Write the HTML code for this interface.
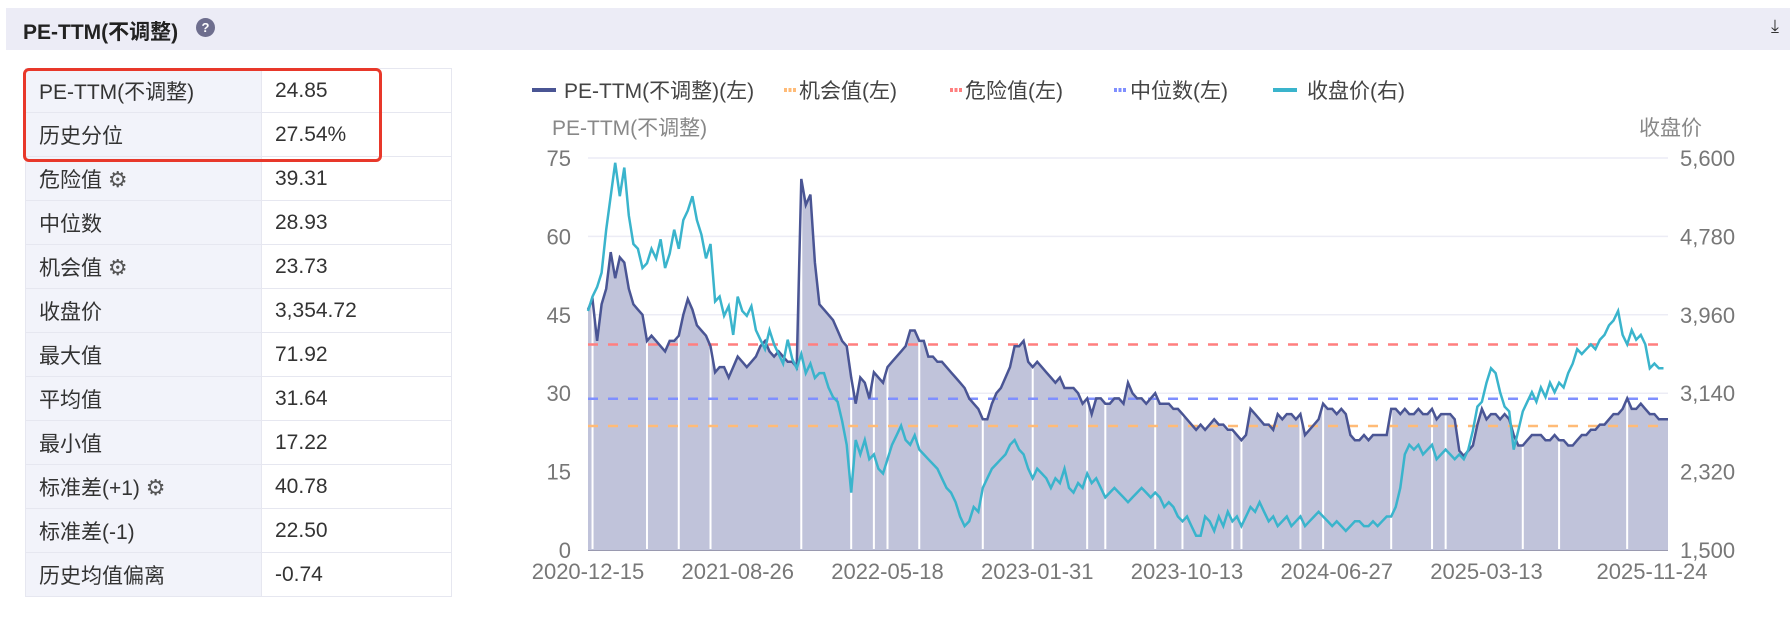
<!DOCTYPE html>
<html><head><meta charset="utf-8">
<style>
body{margin:0;width:1790px;height:623px;background:#fff;font-family:"Liberation Sans","Noto Sans CJK SC",sans-serif;overflow:hidden;position:relative}
.hdr{position:absolute;left:6px;top:8px;width:1784px;height:42px;background:#ececf6}
.title{position:absolute;left:23px;top:16px;font-size:21px;font-weight:bold;color:#222}
.q{position:absolute;left:196px;top:18px;width:19px;height:19px;border-radius:50%;background:#6e6e8e;color:#fff;font-size:13px;font-weight:bold;text-align:center;line-height:19px}
.dl{position:absolute;left:1771px;top:16px;font-size:18px;color:#333}
table{position:absolute;left:25px;top:68px;border-collapse:collapse;font-size:21px;color:#333}
td{height:44px;border:1px solid #e6e7f0;padding:0 0 0 13px;box-sizing:border-box}
td.l{width:236px;background:#f2f3fa}
td.v{width:190px;background:#fff}
.g{color:#555;font-size:22px}
.box{position:absolute;left:23px;top:68px;width:353px;height:88px;border:3px solid #e8382a;border-radius:6px}
svg{position:absolute;left:0;top:0}
</style></head><body>
<div class="hdr"></div>
<div class="title">PE-TTM(不调整)</div>
<div class="q">?</div>
<div class="dl">⤓</div>
<table>
<tr><td class="l">PE-TTM(不调整)</td><td class="v">24.85</td></tr>
<tr><td class="l">历史分位</td><td class="v">27.54%</td></tr>
<tr><td class="l">危险值 <span class="g">⚙</span></td><td class="v">39.31</td></tr>
<tr><td class="l">中位数</td><td class="v">28.93</td></tr>
<tr><td class="l">机会值 <span class="g">⚙</span></td><td class="v">23.73</td></tr>
<tr><td class="l">收盘价</td><td class="v">3,354.72</td></tr>
<tr><td class="l">最大值</td><td class="v">71.92</td></tr>
<tr><td class="l">平均值</td><td class="v">31.64</td></tr>
<tr><td class="l">最小值</td><td class="v">17.22</td></tr>
<tr><td class="l">标准差(+1) <span class="g">⚙</span></td><td class="v">40.78</td></tr>
<tr><td class="l">标准差(-1)</td><td class="v">22.50</td></tr>
<tr><td class="l">历史均值偏离</td><td class="v">-0.74</td></tr>
</table>
<div class="box"></div>
<svg id="c" width="1790" height="623"></svg>
<script>
const peValues=[46,48,40,47,50,57,52,56,55,50,47,46,45,40,41,40,39,38,40,40,41,45,48,46,43,42,41,39,34,35,35,33,35,37,36,35,36,37,39,40,38,37,38,37,36,36,35,71,66,68,55,47,46,45,44,42,40,39,33,28,33,32,29,34,33,32,35,36,37,38,39,42,42,40,40,37,37,36,36,35,34,33,32,31,29,28,27,25,25,28,30,31,33,35,39,39,40,36,35,36,35,34,33,32,33,31,31,31,30,28,29,26,29,29,28,28,29,29,28,32,30,29,29,28,29,30,28,28,28,27,27,26,25,24,23,24,23,24,25,24,24,23,23,22,21,22,27,26,25,24,24,23,26,25,26,26,25,26,22,23,24,25,28,27,27,26,27,26,22,21,21,22,21,22,22,22,22,27,27,26,27,26,26,27,26,26,27,25,26,26,26,25,19,18,19,20,24,27,25,26,26,25,26,25,22,20,20,21,22,22,22,21,21,22,21,21,20,20,21,22,22,23,23,24,24,25,26,26,27,29,27,27,28,27,26,26,25,25,25];
const priceValues=[4000,4150,4250,4400,4850,5200,5550,5200,5500,5000,4700,4650,4450,4500,4650,4550,4750,4450,4600,4850,4650,4950,5050,5200,4950,4800,4550,4700,4100,4150,3950,4050,3750,4150,4000,3950,4050,3800,3700,3600,3800,3650,3550,3450,3700,3500,3400,3550,3350,3450,3300,3350,3350,3200,3100,3050,2850,2600,2100,2650,2500,2650,2450,2500,2350,2300,2450,2600,2700,2800,2650,2600,2700,2550,2500,2450,2400,2350,2250,2150,2100,2000,1850,1750,1800,1950,1900,2150,2250,2350,2400,2450,2500,2600,2650,2550,2500,2350,2250,2350,2300,2250,2150,2250,2200,2350,2150,2100,2200,2150,2300,2200,2250,2150,2050,2100,2150,2100,2050,2000,2050,2100,2150,2100,2050,2100,2050,1950,2000,1950,1850,1800,1850,1750,1650,1650,1850,1800,1700,1850,1750,1900,1800,1850,1750,1850,1950,1900,2000,1900,1800,1850,1750,1800,1850,1750,1800,1850,1750,1800,1850,1900,1850,1800,1750,1800,1750,1700,1750,1800,1800,1750,1750,1800,1750,1800,1850,1850,1950,2150,2500,2600,2550,2600,2500,2550,2600,2450,2500,2550,2500,2450,2500,2450,2550,2750,3000,3050,3250,3400,3350,3150,3000,2950,2550,2750,2950,3050,3150,3050,3200,3100,3250,3150,3250,3200,3350,3450,3600,3550,3600,3650,3600,3700,3750,3850,3900,4000,3750,3650,3800,3700,3750,3650,3400,3450,3400,3400];
const gapIdx=[1,13,20,27,47,58,63,66,73,87,98,110,114,125,131,142,144,157,162,177,186,189,206,214,229];
const leftTicks=[0,15,30,45,60,75];
const rightTicks=["1,500","2,320","3,140","3,960","4,780","5,600"];
const rightTickVals=[1500,2320,3140,3960,4780,5600];
const dateLabels=["2020-12-15","2021-08-26","2022-05-18","2023-01-31","2023-10-13","2024-06-27","2025-03-13","2025-11-24"];
const dateIdx=[0,33,66,99,132,165,198,235];
const refLines=[{name:"danger",v:39.31,c:"#ff7f7f"},{name:"median",v:28.93,c:"#7f8fff"},{name:"opportunity",v:23.73,c:"#ffbb77"}];

const X0=588,X1=1668,Y0=550,Y1=158;
const xs=i=>X0+i*(X1-X0)/(Math.max(peValues.length,priceValues.length)-1);
const yL=v=>Y0-v*(Y0-Y1)/75;
const yR=p=>Y0-(p-1500)*(Y0-Y1)/4100;
const svg=document.getElementById('c');
const NS="http://www.w3.org/2000/svg";
function mk(t,a){const e=document.createElementNS(NS,t);for(const k in a)e.setAttribute(k,a[k]);svg.appendChild(e);return e;}
function txt(s,x,y,anchor,size,col){const e=mk('text',{x:x,y:y,'text-anchor':anchor,'font-size':size,fill:col,'font-family':'Liberation Sans, Noto Sans CJK SC, sans-serif'});e.textContent=s;return e;}

leftTicks.forEach((v,i)=>{
 const g=mk('line',{x1:X0,x2:X1,y1:yL(v),y2:yL(v),stroke:i==0?'#9a9ab0':'#ececf5','stroke-width':i==0?2:1.5});
 
 
 const t=txt(String(v),571,yL(v)+8,'end',22,'#777');
 
 
});
rightTickVals.forEach((v,i)=>{
 const t=txt(rightTicks[i],1680,yR(v)+8,'start',22,'#777');
 
 
});
let d='M'+xs(0)+','+Y0;
peValues.forEach((v,i)=>{d+='L'+xs(i).toFixed(1)+','+yL(v).toFixed(1);});
d+='L'+xs(peValues.length-1)+','+Y0+'Z';
const area=mk('path',{d:d,fill:'#c0c3da'});


gapIdx.forEach(i=>{
 const l=mk('line',{x1:xs(i),x2:xs(i),y1:yL(peValues[i]),y2:Y0-1,stroke:'#fff','stroke-width':2});
 
 
});
refLines.forEach(r=>{
 const l=mk('line',{x1:X0,x2:X1,y1:yL(r.v),y2:yL(r.v),stroke:r.c,'stroke-width':2.5,'stroke-dasharray':'10,10'});
 
 
});
const pl=mk('polyline',{points:peValues.map((v,i)=>xs(i).toFixed(1)+','+yL(v).toFixed(1)).join(' '),fill:'none',stroke:'#4a5594','stroke-width':2.5});


const pr=mk('polyline',{points:priceValues.map((v,i)=>xs(i).toFixed(1)+','+yR(v).toFixed(1)).join(' '),fill:'none',stroke:'#3ab4cc','stroke-width':2.5});


dateLabels.forEach((s,i)=>{
 let x=xs(dateIdx[i]);
 const t=txt(s,Math.min(x,1652),579,'middle',22,'#777');
 
 
});
const at=txt('PE-TTM(不调整)',552,135,'start',21,'#888');


const rt=txt('收盘价',1702,135,'end',21,'#888');


const leg=[["PE-TTM(不调整)(左)","#4a5594",532,564,false],["机会值(左)","#ffbb77",784,799,true],["危险值(左)","#ff7f7f",950,965,true],["中位数(左)","#7f8fff",1114,1130,true],["收盘价(右)","#3ab4cc",1273,1307,false]];
leg.forEach(L=>{
 const lx=mk('line',{x1:L[2],x2:L[4]?L[2]+12:L[2]+24,y1:90,y2:90,stroke:L[1],'stroke-width':4,'stroke-dasharray':L[4]?'3,1.5':'none'});
 
 
 const t=txt(L[0],L[3],98,'start',21,'#444');
 
 
});
</script>
</body></html>
